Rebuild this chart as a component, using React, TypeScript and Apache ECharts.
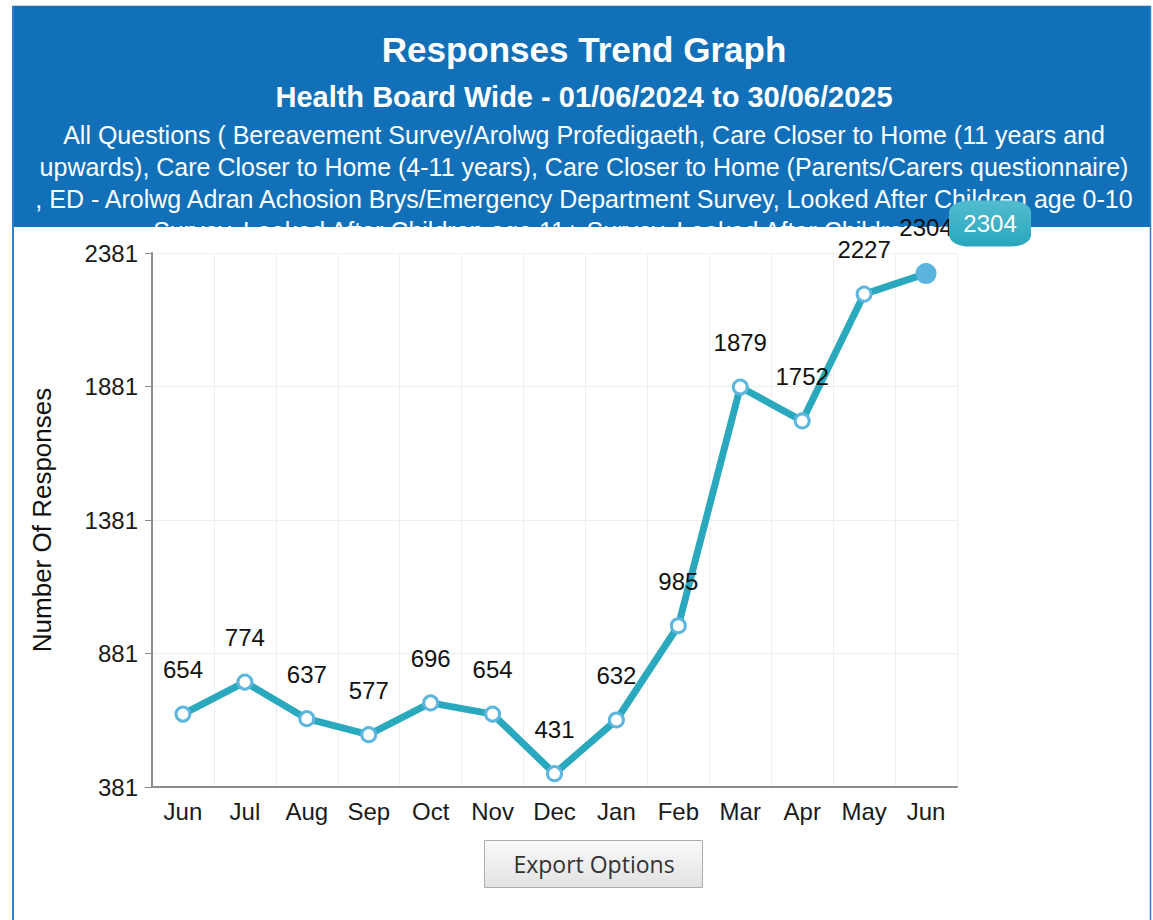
import React, { useEffect, useRef } from "react";
import * as echarts from "echarts";

// Monthly response counts, Jun 2024 – Jun 2025
const months = ["Jun", "Jul", "Aug", "Sep", "Oct", "Nov", "Dec", "Jan", "Feb", "Mar", "Apr", "May", "Jun"];
const responses = [654, 774, 637, 577, 696, 654, 431, 632, 985, 1879, 1752, 2227, 2304];
const yTicks = [381, 881, 1381, 1881, 2381];

const titleText = "Responses Trend Graph";
const subtitleText = "Health Board Wide - 01/06/2024 to 30/06/2025";
const descLines = [
  "All Questions ( Bereavement Survey/Arolwg Profedigaeth, Care Closer to Home (11 years and",
  "upwards), Care Closer to Home (4-11 years), Care Closer to Home (Parents/Carers questionnaire)",
  ", ED - Arolwg Adran Achosion Brys/Emergency Department Survey, Looked After Children age 0-10",
  "Survey, Looked After Children age 11+ Survey, Looked After Children age 16+",
];
const yAxisTitle = "Number Of Responses";
const exportLabel = "Export Options";

const FONT = "'Liberation Sans', Arial, sans-serif";
const HEADER_BLUE = "#1170b8";

export default function App() {
  const ref = useRef<HTMLDivElement>(null);

  useEffect(() => {
    if (!ref.current) return;
    const chart = echarts.init(ref.current, undefined, { renderer: "svg" });
    const last = responses.length - 1;
    const centerX = 584;

    const seriesData = responses.map((v, i) =>
      i === last
        ? {
            value: v,
            symbolSize: 21,
            itemStyle: { color: "#5ab4de", borderColor: "#5ab4de", borderWidth: 0 },
          }
        : v
    );

    const descTexts = descLines.map((t, i) => ({
      type: "text",
      x: centerX,
      y: 134.5 + i * 32,
      z: 11,
      style: {
        text: t,
        fill: "#ffffff",
        font: `25px ${FONT}`,
        align: "center",
        verticalAlign: "middle",
      },
    }));

    chart.setOption({
      animation: false,
      backgroundColor: "#ffffff",
      textStyle: { fontFamily: FONT },
      grid: { left: 152, right: 196, top: 253, bottom: 133, containLabel: false },
      xAxis: {
        type: "category",
        data: months,
        boundaryGap: true,
        axisLine: { show: true, lineStyle: { color: "#8c8c8c", width: 2 } },
        axisTick: { show: false },
        axisLabel: { interval: 0, fontSize: 24, color: "#1a1a1a", margin: 12, fontFamily: FONT },
        splitLine: { show: true, interval: 0, lineStyle: { color: "#eeeeee", width: 1 } },
      },
      yAxis: {
        type: "value",
        min: 381,
        max: 2381,
        name: yAxisTitle,
        nameLocation: "middle",
        nameGap: 97,
        nameTextStyle: { fontSize: 26, color: "#111111", fontFamily: FONT },
        axisLine: { show: true, lineStyle: { color: "#8c8c8c", width: 2 } },
        axisTick: { show: true, length: 7, customValues: yTicks, lineStyle: { color: "#8c8c8c" } },
        axisLabel: {
          customValues: yTicks,
          formatter: (v: number) => String(v),
          fontSize: 24,
          color: "#1a1a1a",
          margin: 14,
          fontFamily: FONT,
        },
        splitLine: { show: true, lineStyle: { color: "#eeeeee", width: 1 } },
      },
      series: [
        {
          type: "line",
          z: 13,
          data: seriesData,
          symbol: "circle",
          symbolSize: 14,
          lineStyle: { color: "#2aa8bd", width: 7 },
          itemStyle: { color: "#ffffff", borderColor: "#5cb6de", borderWidth: 3 },
          label: {
            show: true,
            position: "top",
            distance: 24,
            fontSize: 24,
            color: "#111111",
            fontFamily: FONT,
          },
          emphasis: { disabled: true },
          markPoint: {
            z: 20,
            symbol: "roundRect",
            symbolSize: [82, 46],
            symbolOffset: [64, -50],
            itemStyle: {
              color: new echarts.graphic.LinearGradient(0, 0, 0, 1, [
                { offset: 0, color: "#52bccf" },
                { offset: 1, color: "#29a7bd" },
              ]),
            },
            label: { show: true, color: "#ffffff", fontSize: 24, fontFamily: FONT },
            data: [{ coord: [last, responses[last]], value: responses[last] }],
          },
        },
      ],
      graphic: [
        // header band
        {
          type: "rect",
          z: 10,
          shape: { x: 12, y: 6, width: 1139, height: 221 },
          style: { fill: HEADER_BLUE },
        },
        {
          type: "text",
          x: centerX,
          y: 49,
          z: 11,
          style: {
            text: titleText,
            fill: "#ffffff",
            font: `bold 35px ${FONT}`,
            align: "center",
            verticalAlign: "middle",
          },
        },
        {
          type: "text",
          x: centerX,
          y: 97,
          z: 11,
          style: {
            text: subtitleText,
            fill: "#ffffff",
            font: `bold 29px ${FONT}`,
            align: "center",
            verticalAlign: "middle",
          },
        },
        ...descTexts,
        // chart panel edge hides the overflowing last description line
        {
          type: "rect",
          z: 12,
          shape: { x: 14, y: 227, width: 1136, height: 15 },
          style: { fill: "#ffffff" },
        },
        // panel borders
        {
          type: "line",
          z: 12,
          shape: { x1: 13, y1: 6, x2: 13, y2: 920 },
          style: { stroke: "#2f7fc6", lineWidth: 2 },
        },
        {
          type: "line",
          z: 12,
          shape: { x1: 1150.5, y1: 6, x2: 1150.5, y2: 920 },
          style: { stroke: "#2f7fc6", lineWidth: 1.5 },
        },
        {
          type: "line",
          z: 12,
          shape: { x1: 12, y1: 5.5, x2: 1151, y2: 5.5 },
          style: { stroke: "#c9d6e3", lineWidth: 1 },
        },
        // export button
        {
          type: "rect",
          z: 12,
          shape: { x: 484.5, y: 840.5, width: 218, height: 47 },
          style: {
            fill: new echarts.graphic.LinearGradient(0, 0, 0, 1, [
              { offset: 0, color: "#fafafa" },
              { offset: 1, color: "#e2e2e2" },
            ]),
            stroke: "#adadad",
            lineWidth: 1,
          },
        },
        {
          type: "text",
          x: 594,
          y: 864,
          z: 13,
          style: {
            text: exportLabel,
            fill: "#333333",
            font: `23px 'Open Sans', 'Noto Sans', sans-serif`,
            align: "center",
            verticalAlign: "middle",
          },
        },
      ],
    });

    return () => chart.dispose();
  }, []);

  return (
    <div
      ref={ref}
      style={{ position: "absolute", left: 0, top: 0, width: 1153, height: 920 }}
    />
  );
}
